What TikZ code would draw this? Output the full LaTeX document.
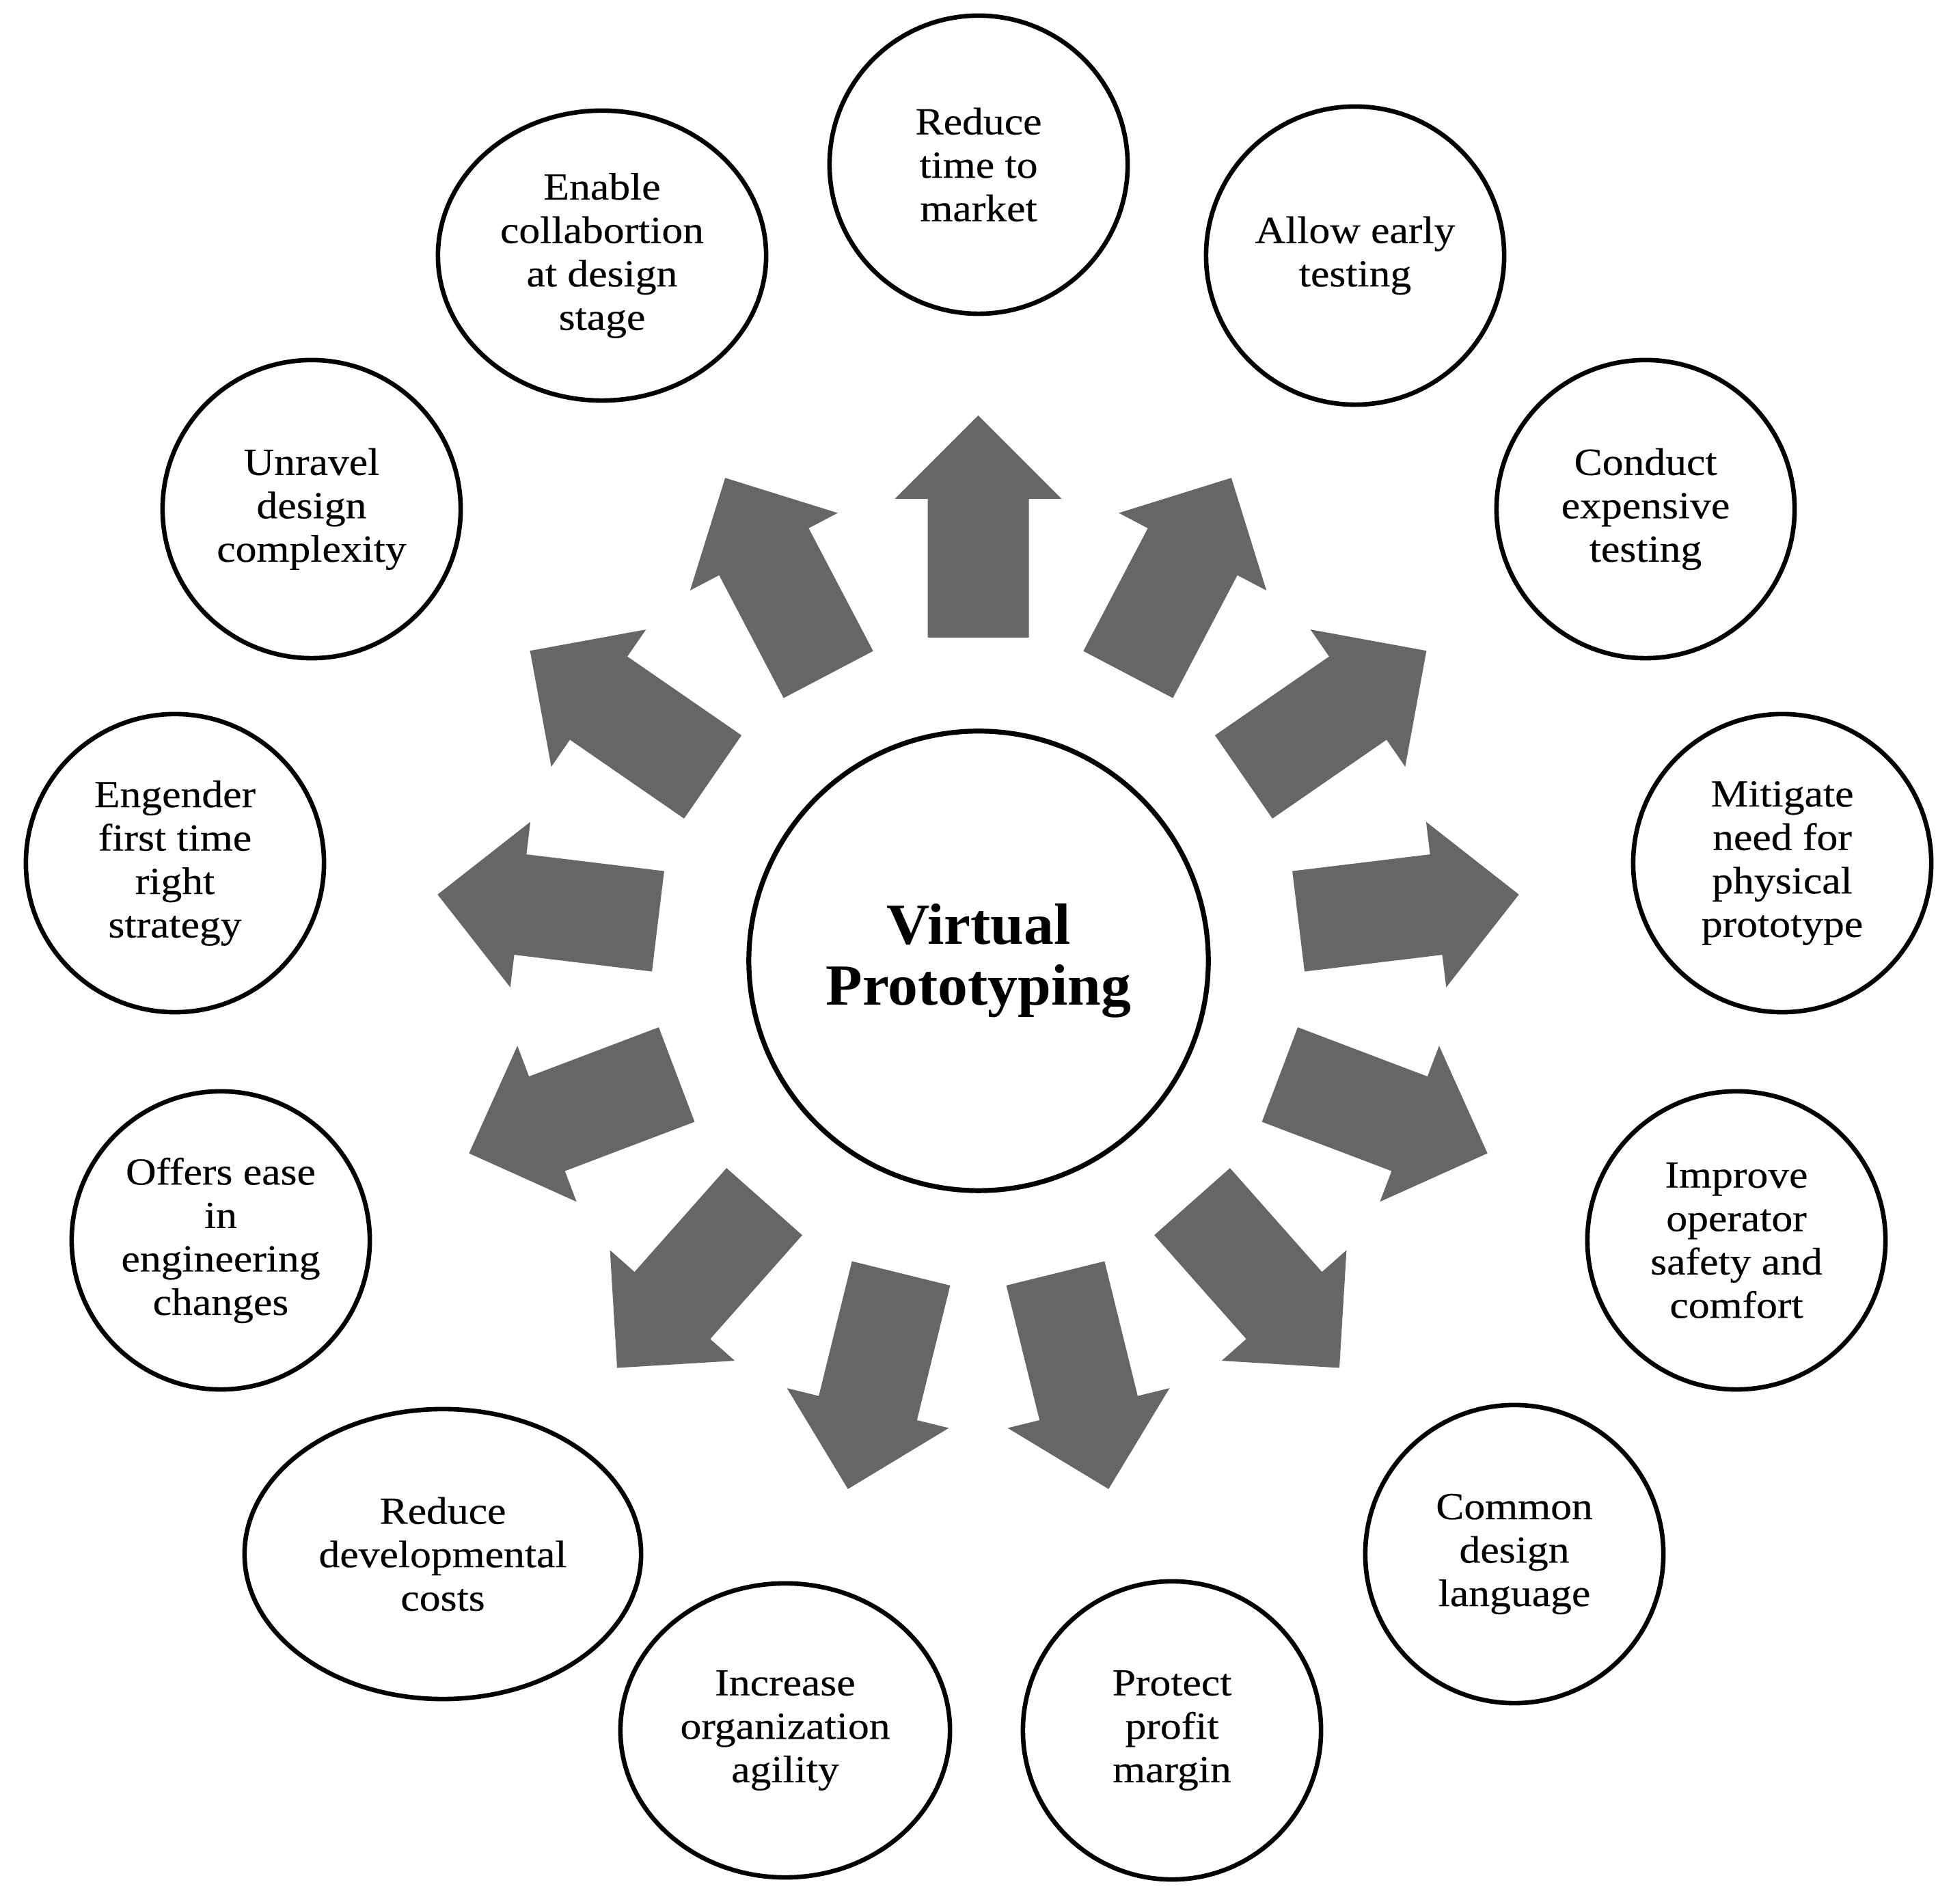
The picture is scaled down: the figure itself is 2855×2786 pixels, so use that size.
\documentclass[tikz,border=0pt]{standalone}
\usepackage{fontspec}
\setmainfont{Liberation Serif}
\newfontfamily\outerfont{Liberation Serif}[FakeStretch=1.1,FakeBold=0.3]
\newfontfamily\centerfont{Liberation Serif}[FakeStretch=1.03]
\usetikzlibrary{shapes.geometric}
\definecolor{arrowgray}{RGB}{102,102,102}
\tikzset{
  bubble/.style={draw=black, line width=0.066cm, circle, minimum size=4.36cm,
    inner sep=0pt, align=center, fill=white,
    font={\outerfont\fontsize{15.94pt}{18.07pt}\selectfont}},
  ebubble/.style={bubble, ellipse},
  hub/.style={draw=black, line width=0.072cm, circle, minimum size=6.72cm,
    inner sep=0pt, align=center,
    font={\centerfont\bfseries\fontsize{24.2pt}{25.3pt}\selectfont}},
  blockarrow/.style={fill=arrowgray, draw=none}
}
\begin{document}
\begin{tikzpicture}[x=0.01cm,y=0.01cm]
\path[fill=white] (0,0) rectangle (2855,2786);
\useasboundingbox (0,0) rectangle (2855,2786);

% centre
\node[hub] (vp) at (1432,1380) {Virtual\\Prototyping};

% block arrows
\foreach \k in {0,...,12}{
  \pgfmathsetmacro{\ang}{90-\k*360/13}
  \begin{scope}[shift={(1431.5,1381)}, rotate=\ang]
    \fill[blockarrow] (472,-74) -- (675,-74) -- (675,-122) -- (797,0)
      -- (675,122) -- (675,74) -- (472,74) -- cycle;
  \end{scope}
}

% outer bubbles
\node[bubble] (c1) at (1432,2545) {Reduce\\time to\\market};
\node[bubble] (c2) at (1983,2412) {Allow early\\testing};
\node[bubble] (c3) at (2408,2041) {Conduct\\expensive\\testing};
\node[bubble] (c4) at (2608,1523) {Mitigate\\need for\\physical\\prototype};
\node[bubble] (c5) at (2541,971) {Improve\\operator\\safety and\\comfort};
\node[bubble] (c6) at (2216,512) {Common\\design\\language};
\node[bubble] (c7) at (1715,254) {Protect\\profit\\margin};
\node[ebubble, minimum width=4.82cm, minimum height=4.3cm] (c8) at (1149,254) {Increase\\organization\\agility};
\node[ebubble, minimum width=5.8cm, minimum height=4.24cm] (c9) at (648,512) {Reduce\\developmental\\costs};
\node[bubble] (c10) at (323,971) {Offers ease\\in\\engineering\\changes};
\node[bubble] (c11) at (256,1523) {Engender\\first time\\right\\strategy};
\node[bubble] (c12) at (456,2041) {Unravel\\design\\complexity};
\node[ebubble, minimum width=4.8cm, minimum height=4.24cm] (c13) at (881,2412) {Enable\\collabortion\\at design\\stage};
\end{tikzpicture}
\end{document}
